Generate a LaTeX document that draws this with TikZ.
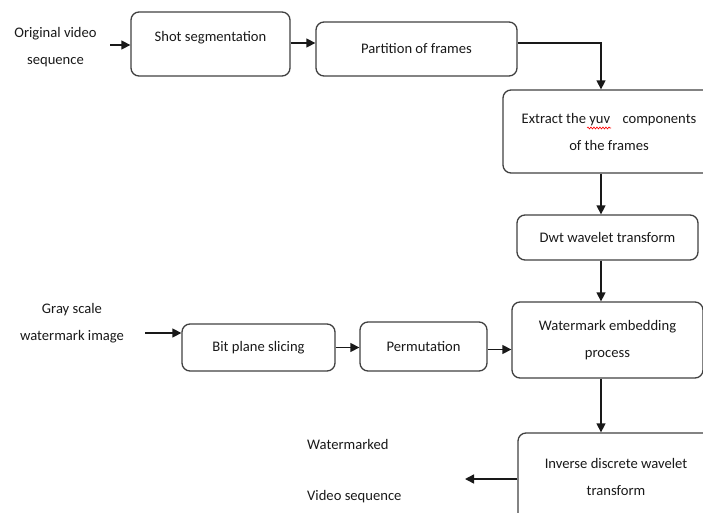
\documentclass[tikz,border=0pt]{standalone}
\usepackage{fontspec}
\setmainfont{Carlito}
\usetikzlibrary{arrows.meta,decorations.pathmorphing}

\tikzset{
  box/.style={draw=black!75,line width=1.3pt,rounded corners=8pt,align=center,inner sep=0pt},
  lbl/.style={align=center,inner sep=0pt},
  flow/.style={-{Triangle[length=9pt,width=9pt]},line width=1.4pt}
}

\begin{document}
\begin{tikzpicture}[x=1pt,y=-1pt,font=\fontsize{14.6}{27}\selectfont,color=black!90]
\clip (0,0) rectangle (703,513);
\node[lbl] (A) at (55.5,47.5) {Original video\\sequence};
\node[box,minimum width=159pt,minimum height=64pt,text depth=15pt] (B) at (210.5,44) {Shot segmentation};
\node[box,minimum width=201pt,minimum height=54pt] (C) at (416.5,49) {Partition of frames};
\node[box,minimum width=212pt,minimum height=83pt] (D) at (609,131.5) {Extract the yuv\hspace{9pt} components\\of the frames};
\node[box,minimum width=181pt,minimum height=45pt] (E) at (607.5,237.5) {Dwt wavelet transform};
\node[box,minimum width=191pt,minimum height=76pt] (F) at (607.5,340) {Watermark embedding\\process};
\node[box,minimum width=196pt,minimum height=88pt] (G) at (616,477) {Inverse discrete wavelet\\transform};
\node[lbl] (J) at (72,323) {Gray scale\\watermark image};
\node[box,minimum width=153pt,minimum height=47pt] (H) at (258.5,347.5) {Bit plane slicing};
\node[box,minimum width=127pt,minimum height=49pt] (I) at (423.5,346.5) {Permutation};
\node[lbl,align=left,anchor=west] (K) at (307,471.5) {Watermarked\\[24pt]Video sequence};
% spell check mark
\draw[red,line width=.6pt,decorate,decoration={snake,amplitude=1pt,segment length=3pt}] (587,128) -- (611,128);
% connectors
\coordinate (a) at (110,45);
\coordinate (g) at (145,333);
\coordinate (v) at (601,0);
\coordinate (o) at (465,479);
\draw[flow] (a) -- (a -| B.west);
\draw[flow] ([yshift=1pt]B.east) -- ([yshift=1pt]B.east -| C.west);
\draw[flow] ([yshift=6pt]C.east) -| (D.north -| v);
\draw[flow] (D.south -| v) -- (E.north -| v);
\draw[flow] (E.south -| v) -- (F.north -| v);
\draw[flow] (F.south -| v) -- (G.north -| v);
\draw[flow] (g) -- (g -| H.west);
\draw[flow] (H.east) -- (H.east -| I.west);
\draw[flow] ([yshift=-3pt]I.east) -- ([yshift=-3pt]I.east -| F.west);
\draw[flow] (G.west |- o) -- (o);
\end{tikzpicture}
\end{document}
